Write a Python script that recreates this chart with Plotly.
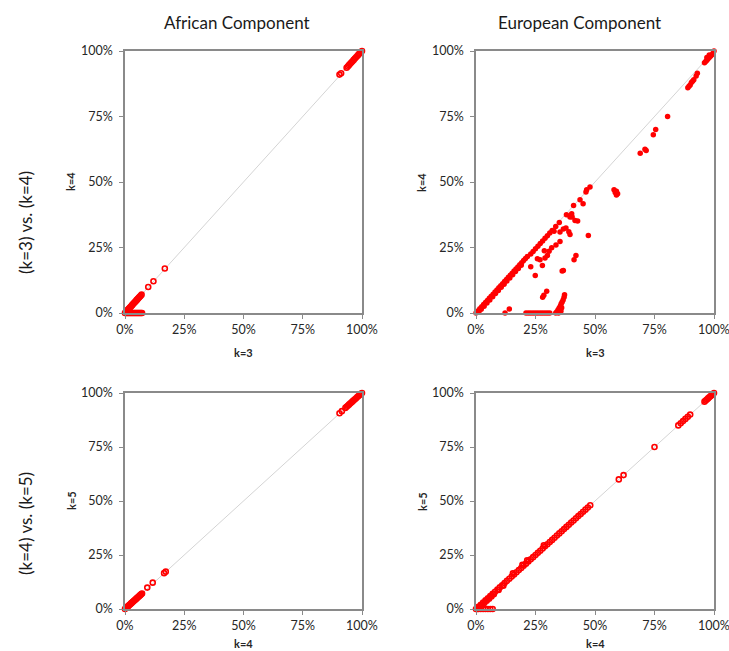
import plotly.graph_objects as go

# ---- African component, k=3 vs k=4 ----
afr_k3 = [0.000, 0.003, 0.006, 0.009, 0.012, 0.015, 0.018, 0.021, 0.024, 0.027, 0.030,
          0.033, 0.036, 0.039, 0.042, 0.045, 0.048, 0.051, 0.054, 0.057, 0.060, 0.063,
          0.066, 0.070,
          0.004, 0.008, 0.012, 0.016, 0.020, 0.024, 0.028, 0.032, 0.036, 0.040, 0.044,
          0.048, 0.052, 0.056, 0.060, 0.064, 0.068, 0.072,
          0.098, 0.120, 0.168,
          0.905, 0.912, 0.935, 0.940, 0.945, 0.950, 0.955, 0.960, 0.965, 0.970, 0.975,
          0.980, 0.985, 0.990, 0.995, 1.000]
afr_k4 = [0.000, 0.003, 0.006, 0.009, 0.012, 0.015, 0.018, 0.021, 0.024, 0.027, 0.030,
          0.033, 0.036, 0.039, 0.042, 0.045, 0.048, 0.051, 0.054, 0.057, 0.060, 0.063,
          0.066, 0.070,
          0.000, 0.000, 0.000, 0.000, 0.000, 0.000, 0.000, 0.000, 0.000, 0.000, 0.000,
          0.000, 0.000, 0.000, 0.000, 0.000, 0.000, 0.000,
          0.099, 0.121, 0.170,
          0.910, 0.915, 0.936, 0.941, 0.946, 0.951, 0.956, 0.961, 0.966, 0.971, 0.976,
          0.981, 0.986, 0.991, 0.996, 1.000]

# ---- African component, k=4 vs k=5 ----
afr2_k4 = [0.000, 0.003, 0.006, 0.009, 0.012, 0.015, 0.018, 0.021, 0.024, 0.027, 0.030,
           0.033, 0.036, 0.039, 0.042, 0.045, 0.048, 0.051, 0.054, 0.057, 0.060, 0.063,
           0.066, 0.069, 0.072,
           0.094, 0.117, 0.165, 0.172,
           0.905, 0.915, 0.930, 0.935, 0.940, 0.945, 0.950, 0.955, 0.960, 0.965, 0.970,
           0.975, 0.980, 0.985, 0.990, 0.995, 1.000]
afr2_k5 = [0.000, 0.003, 0.006, 0.009, 0.012, 0.015, 0.018, 0.021, 0.024, 0.027, 0.030,
           0.033, 0.036, 0.039, 0.042, 0.045, 0.048, 0.051, 0.054, 0.057, 0.060, 0.063,
           0.066, 0.069, 0.072,
           0.099, 0.122, 0.166, 0.173,
           0.906, 0.916, 0.931, 0.936, 0.941, 0.946, 0.951, 0.956, 0.961, 0.966, 0.971,
           0.976, 0.981, 0.986, 0.991, 0.996, 1.000]

# ---- European component, k=3 vs k=4 ----
eur_k3 = [0.000, 0.008, 0.016, 0.024, 0.032, 0.040, 0.048, 0.056, 0.064, 0.072, 0.080,
          0.088, 0.096, 0.104, 0.112, 0.120, 0.128, 0.136, 0.144, 0.152, 0.160, 0.168,
          0.176, 0.184, 0.192, 0.200, 0.208, 0.216,
          0.012, 0.022, 0.034, 0.046, 0.058, 0.070, 0.082, 0.094, 0.106, 0.118, 0.130,
          0.142, 0.154, 0.166, 0.178, 0.190,
          0.230, 0.240, 0.250, 0.260, 0.270, 0.280, 0.290, 0.300, 0.310, 0.320, 0.335,
          0.350, 0.380, 0.410, 0.437, 0.462, 0.465, 0.479,
          0.450, 0.402, 0.395, 0.404, 0.416, 0.427, 0.367, 0.378, 0.353, 0.328, 0.390,
          0.395, 0.472, 0.353, 0.336, 0.318, 0.307, 0.300, 0.290, 0.287, 0.258, 0.269,
          0.230, 0.279, 0.249, 0.367, 0.362, 0.412, 0.420, 0.297, 0.280, 0.285,
          0.372, 0.370, 0.366, 0.362, 0.358, 0.355, 0.350, 0.345, 0.340, 0.335, 0.347,
          0.357, 0.360,
          0.210, 0.220, 0.230, 0.240, 0.250, 0.260, 0.270, 0.280, 0.290, 0.300, 0.310,
          0.122, 0.140,
          0.580, 0.585, 0.590, 0.595, 0.590, 0.690, 0.710, 0.715, 0.745, 0.755, 0.805,
          0.890, 0.895, 0.900, 0.905, 0.910, 0.915, 0.925, 0.930,
          0.960, 0.965, 0.970, 0.975, 0.980, 0.985, 0.990, 0.995, 1.000, 0.970, 0.980]
eur_k4 = [0.000, 0.008, 0.016, 0.024, 0.032, 0.040, 0.048, 0.056, 0.064, 0.072, 0.080,
          0.088, 0.096, 0.104, 0.112, 0.120, 0.128, 0.136, 0.144, 0.152, 0.160, 0.168,
          0.176, 0.184, 0.192, 0.200, 0.208, 0.216,
          0.004, 0.014, 0.026, 0.038, 0.050, 0.062, 0.074, 0.086, 0.098, 0.110, 0.122,
          0.134, 0.146, 0.158, 0.170, 0.182,
          0.225, 0.235, 0.245, 0.255, 0.265, 0.275, 0.285, 0.295, 0.305, 0.315, 0.330,
          0.345, 0.375, 0.410, 0.432, 0.462, 0.470, 0.481,
          0.417, 0.379, 0.366, 0.366, 0.353, 0.351, 0.321, 0.324, 0.309, 0.312, 0.310,
          0.300, 0.296, 0.273, 0.260, 0.249, 0.236, 0.219, 0.210, 0.238, 0.207, 0.203,
          0.177, 0.181, 0.143, 0.162, 0.160, 0.203, 0.219, 0.083, 0.060, 0.068,
          0.070, 0.060, 0.050, 0.042, 0.035, 0.028, 0.020, 0.012, 0.005, 0.000, 0.000,
          0.008, 0.020,
          0.000, 0.000, 0.000, 0.000, 0.000, 0.000, 0.000, 0.000, 0.000, 0.000, 0.000,
          0.000, 0.015,
          0.470, 0.460, 0.465, 0.455, 0.450, 0.610, 0.625, 0.620, 0.680, 0.700, 0.750,
          0.860, 0.865, 0.870, 0.880, 0.885, 0.890, 0.905, 0.915,
          0.955, 0.960, 0.965, 0.970, 0.975, 0.980, 0.985, 0.990, 1.000, 0.975, 0.985]

# ---- European component, k=4 vs k=5 ----
eur2_k4 = [0.000, 0.010, 0.020, 0.030, 0.040, 0.050, 0.060, 0.070, 0.080, 0.090, 0.100,
           0.110, 0.120, 0.130, 0.140, 0.150, 0.160, 0.170, 0.180, 0.190, 0.200, 0.210,
           0.220, 0.230, 0.240, 0.250, 0.260, 0.270, 0.280, 0.290, 0.300, 0.310, 0.320,
           0.330, 0.340, 0.350, 0.360, 0.370, 0.380, 0.390, 0.400, 0.410, 0.420, 0.430,
           0.440, 0.450, 0.460, 0.470, 0.480,
           0.005, 0.015, 0.025, 0.035, 0.045, 0.055, 0.065, 0.075, 0.095, 0.115, 0.155,
           0.195, 0.215, 0.285,
           0.010, 0.020, 0.030, 0.040, 0.050, 0.060, 0.070,
           0.600, 0.620, 0.750, 0.850, 0.860, 0.870, 0.880, 0.890, 0.900,
           0.960, 0.965, 0.970, 0.975, 0.980, 0.985, 0.990, 0.995, 1.000]
eur2_k5 = [0.000, 0.010, 0.020, 0.030, 0.040, 0.050, 0.060, 0.070, 0.080, 0.090, 0.100,
           0.110, 0.120, 0.130, 0.140, 0.150, 0.160, 0.170, 0.180, 0.190, 0.200, 0.210,
           0.220, 0.230, 0.240, 0.250, 0.260, 0.270, 0.280, 0.290, 0.300, 0.310, 0.320,
           0.330, 0.340, 0.350, 0.360, 0.370, 0.380, 0.390, 0.400, 0.410, 0.420, 0.430,
           0.440, 0.450, 0.460, 0.470, 0.480,
           0.000, 0.008, 0.018, 0.028, 0.038, 0.048, 0.058, 0.068, 0.088, 0.108, 0.165,
           0.205, 0.225, 0.295,
           0.000, 0.000, 0.000, 0.000, 0.000, 0.000, 0.000,
           0.600, 0.620, 0.750, 0.850, 0.860, 0.870, 0.880, 0.890, 0.900,
           0.960, 0.965, 0.970, 0.975, 0.980, 0.985, 0.990, 0.995, 1.000]

tick_vals = [0, 0.25, 0.5, 0.75, 1.0]
tick_text = ["0%", "25%", "50%", "75%", "100%"]

col_titles = ["African Component", "European Component"]
row_titles = ["(k=3) vs. (k=4)", "(k=4) vs. (k=5)"]
x_titles = ["k=3", "k=3", "k=4", "k=4"]
y_titles = ["k=4", "k=4", "k=5", "k=5"]

W, H = 729, 651
FONT = "Lato, 'Open Sans', sans-serif"
RED = "#ff0000"
AXIS = "#8a8a8a"

# panel boxes in pixels: (left, right, top, bottom)
panels = [(125, 362, 51, 313), (476, 714, 51, 313),
          (125, 362, 393, 609), (476, 714, 393, 609)]

series = [(afr_k3, afr_k4, False), (eur_k3, eur_k4, True),
          (afr2_k4, afr2_k5, False), (eur2_k4, eur2_k5, False)]

fig = go.Figure()


def label(x, y, text, size, angle=0, color="#262626"):
    fig.add_annotation(x=x / W, y=1 - y / H, xref="paper", yref="paper", text=text,
                       showarrow=False, textangle=angle, xanchor="center",
                       yanchor="middle", font=dict(family=FONT, size=size, color=color))


for i, ((xs, ys, filled), (l, r, t, b)) in enumerate(zip(series, panels)):
    n = "" if i == 0 else str(i + 1)
    xa, ya = "x" + n, "y" + n
    # y = x reference diagonal
    fig.add_trace(go.Scatter(x=[0, 1], y=[0, 1], mode="lines", xaxis=xa, yaxis=ya,
                             line=dict(color="#d4d4d4", width=1), hoverinfo="skip",
                             showlegend=False))
    if filled:
        marker = dict(color=RED, size=5.5, line=dict(width=0))
    else:
        marker = dict(symbol="circle-open", color=RED, size=5, line=dict(width=1.6, color=RED))
    fig.add_trace(go.Scatter(x=xs, y=ys, mode="markers", xaxis=xa, yaxis=ya,
                             marker=marker, cliponaxis=False, showlegend=False))

    common = dict(range=[0, 1], tickvals=tick_vals, ticktext=tick_text, showgrid=False,
                  zeroline=False, showline=True, linecolor=AXIS, linewidth=1.5, mirror=True,
                  ticks="outside", ticklen=4, tickcolor=AXIS, fixedrange=True,
                  automargin=False, ticklabeloverflow="allow",
                  tickfont=dict(family=FONT, size=12.5, color="#262626"))
    fig.layout["xaxis" + n] = dict(common, domain=[l / W, r / W], anchor=ya)
    fig.layout["yaxis" + n] = dict(common, domain=[1 - b / H, 1 - t / H], anchor=xa,
                                   ticklabelstandoff=4)

    cx = (l + r) / 2
    cy = (t + b) / 2
    label(cx, min(b + 39, 643), "<b>%s</b>" % x_titles[i], 11)
    label(l - 54, cy, "<b>%s</b>" % y_titles[i], 11, angle=-90)

for txt, px in zip(col_titles, [237, 579]):
    label(px, 22, txt, 17, color="#1a1a1a")
for txt, py in zip(row_titles, [223, 524]):
    label(25, py, txt, 17, angle=-90, color="#1a1a1a")

fig.update_layout(width=W, height=H, template="none",
                  margin=dict(l=0, r=0, t=0, b=0, autoexpand=False),
                  paper_bgcolor="white", plot_bgcolor="white")
fig.write_html("out.html")
